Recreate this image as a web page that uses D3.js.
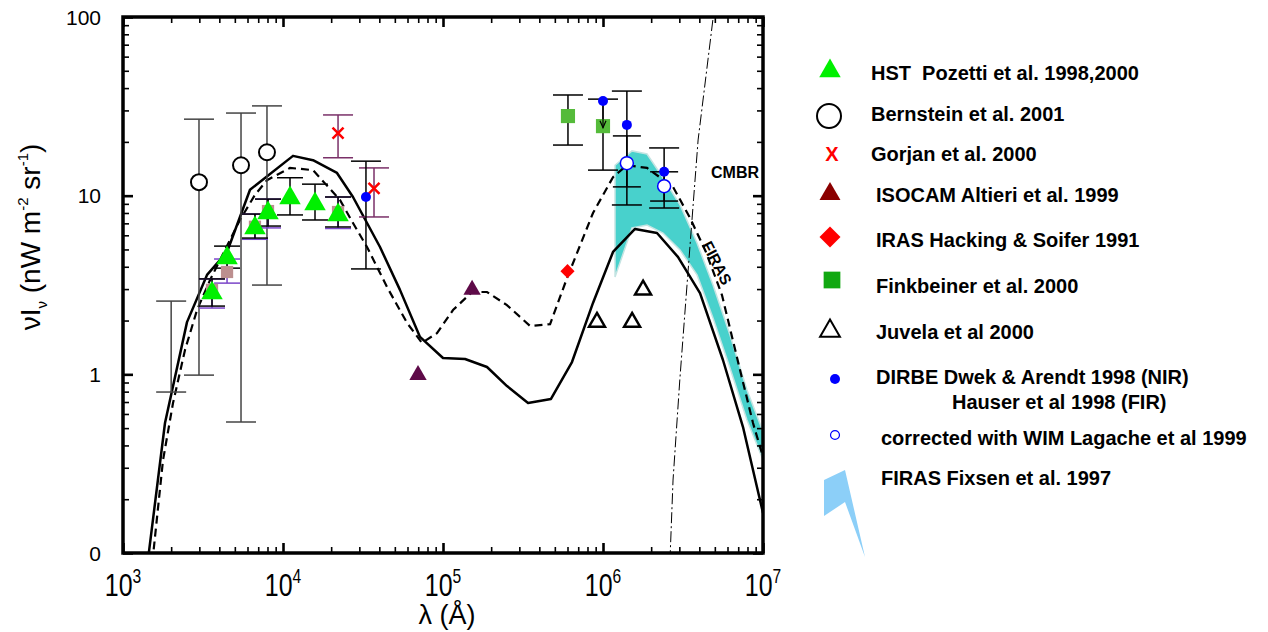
<!DOCTYPE html>
<html lang="en">
<head>
<meta charset="utf-8">
<title>Extragalactic background light</title>
<script src="https://cdn.jsdelivr.net/npm/d3@7"></script>
<style>
  body { margin: 0; background: #fff; }
  text { font-family: "Liberation Sans", Arial, sans-serif; }
</style>
</head>
<body>
<script>

// ---- data (lambda in Angstrom, nuI_nu in nW m^-2 sr^-1) ----
var xTicks = [1e3, 1e4, 1e5, 1e6, 1e7];
var xTickExp = ["3", "4", "5", "6", "7"];
var yTicks = [0.1, 1, 10, 100];
var yTickText = ["0", "1", "10", "100"];

var modelSolid = [
  [1393, 0.075], [1830, 0.534], [2512, 1.96], [3350, 3.6], [4470, 4.84], [6220, 10.8],
  [11550, 16.7], [15400, 15.8], [21750, 13.4], [27380, 9.83], [40380, 5.16], [53830, 2.97],
  [71800, 1.62], [1.0e5, 1.234], [1.373e5, 1.218], [1.884e5, 1.099], [2.512e5, 0.86],
  [3.4e5, 0.691], [4.73e5, 0.728], [6.4e5, 1.172], [8.66e5, 2.51], [1.155e6, 4.84],
  [1.585e6, 6.51], [2.175e6, 6.18], [2.94e6, 4.54], [4.04e6, 2.85], [5.62e6, 1.203],
  [7.5e6, 0.507], [1e7, 0.1675]
];

var modelDashed = [
  [1496, 0.075], [1778, 0.33], [2054, 0.691], [2441, 1.37], [2901, 2.29], [3500, 3.37],
  [4341, 4.97], [5380, 7.31], [6680, 10.1], [7940, 12.2], [11060, 14.3], [15400, 13.9],
  [22700, 9.46], [27380, 7.03], [33500, 5.16],
  [44700, 3.08], [59600, 1.94], [73900, 1.50], [91700, 1.70], [1.155e5, 2.29], [1.52e5, 2.89],
  [1.884e5, 2.89], [2.51e5, 2.44], [3.5e5, 1.865], [4.67e5, 1.91], [5.96e5, 3.46],
  [8.66e5, 8.0], [1.155e6, 12.7], [1.41e6, 14.8], [1.884e6, 14.3], [2.74e6, 11.2],
  [3.5e6, 7.5], [4.4e6, 4.84], [5.54e6, 2.78], [7.18e6, 1.06], [8.66e6, 0.534], [1e7, 0.345]
];

var cmbr = [
  [2.62e6, 0.09], [2.74e6, 0.256], [3.02e6, 0.93], [3.35e6, 3.16], [3.93e6, 20.5],
  [4.8e6, 87.9], [4.94e6, 109]
];

var firasBand = [
  {lam: 1.189e6, lo: 3.51, hi: 14.8}, {lam: 1.518e6, lo: 6.59, hi: 17.8},
  {lam: 1.884e6, lo: 6.85, hi: 17.1}, {lam: 2.37e6, lo: 6.18, hi: 12.6},
  {lam: 3.03e6, lo: 4.97, hi: 8.87}, {lam: 3.87e6, lo: 3.6, hi: 5.43},
  {lam: 4.87e6, lo: 2.07, hi: 3.16}, {lam: 6.22e6, lo: 1.085, hi: 1.66},
  {lam: 7.94e6, lo: 0.555, hi: 0.817}, {lam: 1.03e7, lo: 0.311, hi: 0.446}
];

var hst = [
  {lam: 3600, v: 2.85, lo: 2.41, hi: 3.42}, {lam: 4470, v: 4.48, lo: 3.93, hi: 5.22},
  {lam: 6680, v: 6.59, lo: 5.79, hi: 7.89}, {lam: 8060, v: 8.0, lo: 6.76, hi: 9.57},
  {lam: 11060, v: 9.7, lo: 7.8, hi: 12.6}, {lam: 15850, v: 8.98, lo: 7.31, hi: 11.6},
  {lam: 22080, v: 7.8, lo: 6.68, hi: 9.83}
];
var hstGround = [
  {lam: 3600, v: 2.97, lo: 2.35, hi: 3.42}, {lam: 4470, v: 3.74, lo: 3.24, hi: 4.42},
  {lam: 6680, v: 6.7, lo: 5.7, hi: 7.89}, {lam: 8060, v: 8.2, lo: 6.6, hi: 9.57},
  {lam: 22080, v: 8.1, lo: 6.55, hi: 9.83}
];
var bernstein = [
  {lam: 2985, v: 11.9, lo: 0.99, hi: 26.8}, {lam: 5465, v: 14.8, lo: 0.541, hi: 29.0},
  {lam: 7940, v: 17.5, lo: 3.16, hi: 31.8}
];
var uvBar = [{lam: 2000, lo: 0.796, hi: 2.57}];
var gorjan = [
  {lam: 22080, v: 22.4, lo: 16.3, hi: 28.3}, {lam: 37050, v: 11.0, lo: 7.6, hi: 14.3}
];
var dirbe = [
  {lam: 33000, v: 9.83, lo: 3.89, hi: 15.6}, {lam: 1.0e6, v: 33.9, lo: 13.9, hi: 34.7},
  {lam: 1.41e6, v: 24.9, lo: 8.87, hi: 38.5}, {lam: 2.41e6, v: 13.6, lo: 8.53, hi: 18.5}
];
var dirbeLimit = [{lam: 1.0e6, from: 33.9, to: 24.0}];
var corrected = [
  {lam: 1.41e6, v: 15.2, lo: 11.2, hi: 21.6}, {lam: 2.41e6, v: 11.3, lo: 9.33, hi: 13.6}
];
var finkbeiner = [
  {lam: 6.04e5, v: 27.9, lo: 19.2, hi: 36.6}, {lam: 1.0e6, v: 24.5}
];
var isocam = [{lam: 69800, v: 0.99}, {lam: 1.52e5, v: 2.97}];
var iras = [{lam: 6.0e5, v: 3.78}];
var juvela = [{lam: 9.17e5, v: 1.96}, {lam: 1.52e6, v: 1.96}, {lam: 1.78e6, v: 2.97}];

var legendLabels = [
  "HST  Pozetti et al. 1998,2000", "Bernstein et al. 2001", "Gorjan et al. 2000",
  "ISOCAM Altieri et al. 1999", "IRAS Hacking & Soifer 1991", "Finkbeiner et al. 2000",
  "Juvela et al 2000", "DIRBE Dwek & Arendt 1998 (NIR)", "corrected with WIM Lagache et al 1999",
  "FIRAS Fixsen et al. 1997"
];
var legendSecondLine = "Hauser et al 1998 (FIR)";

// ---- setup ----
var w = 1268, h = 632;
var plotL = 123, plotR = 763, plotT = 17, plotB = 553;

var svg = d3.select("body").append("svg")
  .attr("width", w)
  .attr("height", h);

var xScale = d3.scaleLog().domain([1e3, 1e7]).range([plotL, plotR]);
var yScale = d3.scaleLog().domain([0.1, 100]).range([plotB, plotT]);

svg.append("clipPath").attr("id", "clip")
  .append("rect")
  .attr("x", plotL).attr("y", plotT)
  .attr("width", plotR - plotL).attr("height", plotB - plotT);

var plot = svg.append("g").attr("clip-path", "url(#clip)");

//FIRAS band
var band = d3.area()
  .x(function(d) { return xScale(d.lam); })
  .y0(function(d) { return yScale(d.lo); })
  .y1(function(d) { return yScale(d.hi); });

plot.append("path")
  .datum(firasBand)
  .attr("d", band)
  .attr("fill", "#48d1cc")
  .attr("stroke", "#c4e4e2")
  .attr("stroke-width", 1.5);

//model curves
var line = d3.line()
  .x(function(d) { return xScale(d[0]); })
  .y(function(d) { return yScale(d[1]); });

plot.append("path").datum(modelSolid).attr("d", line)
  .attr("fill", "none").attr("stroke", "#000").attr("stroke-width", 2.5)
  .attr("stroke-linejoin", "round");

plot.append("path").datum(modelDashed).attr("d", line)
  .attr("fill", "none").attr("stroke", "#000").attr("stroke-width", 2.2)
  .attr("stroke-dasharray", "8,5");

plot.append("path").datum(cmbr).attr("d", line)
  .attr("fill", "none").attr("stroke", "#000").attr("stroke-width", 1)
  .attr("stroke-dasharray", "11,3,2,3");

//error bars
function errBars(data, color, cap, sw) {
  var g = plot.append("g").attr("stroke", color).attr("stroke-width", sw);
  data.forEach(function(d) {
    if (d.lo === undefined) return;
    var cx = xScale(d.lam);
    g.append("line")
      .attr("x1", cx).attr("x2", cx)
      .attr("y1", yScale(d.lo)).attr("y2", yScale(d.hi));
    [d.lo, d.hi].forEach(function(v) {
      g.append("line")
        .attr("x1", cx - cap / 2).attr("x2", cx + cap / 2)
        .attr("y1", yScale(v)).attr("y2", yScale(v));
    });
  });
}

errBars(uvBar, "#444", 30, 1.5);
errBars(bernstein, "#444", 30, 1.5);
errBars(hstGround, "#7a45c8", 26, 1.5);
errBars(hst, "#000", 26, 1.5);
errBars(gorjan, "#7a3068", 30, 1.5);
errBars(dirbe, "#000", 30, 1.5);
errBars(finkbeiner, "#000", 30, 1.5);
errBars(corrected, "#000", 28, 1.5);

//markers
function symbols(data, type, size, fill, stroke, sw, rot) {
  plot.selectAll(null)
    .data(data)
    .enter()
    .append("path")
    .attr("d", d3.symbol().type(type).size(size))
    .attr("transform", function(d) {
      return "translate(" + xScale(d.lam) + "," + yScale(d.v) + ")" + (rot ? " rotate(" + rot + ")" : "");
    })
    .attr("fill", fill)
    .attr("stroke", stroke || "none")
    .attr("stroke-width", sw || 0);
}

symbols(hstGround, d3.symbolSquare, 150, "#bc8f8f");
symbols(hst, d3.symbolTriangle, 200, "#00f000");
symbols(finkbeiner, d3.symbolSquare, 200, "#55bb3a");
symbols(isocam, d3.symbolTriangle, 130, "#5e0a48");
symbols(iras, d3.symbolSquare, 100, "#ff0000", null, 0, 45);
symbols(juvela, d3.symbolTriangle, 110, "#fff", "#000", 2.5);
symbols(bernstein, d3.symbolCircle, Math.PI * 64, "#fff", "#000", 2);

//Gorjan crosses
plot.selectAll(null)
  .data(gorjan)
  .enter()
  .append("path")
  .attr("d", "M-5.5,-5.5L5.5,5.5M-5.5,5.5L5.5,-5.5")
  .attr("transform", function(d) { return "translate(" + xScale(d.lam) + "," + yScale(d.v) + ")"; })
  .attr("stroke", "#ff0000")
  .attr("stroke-width", 2.5);

//DIRBE upper limit arrow
dirbeLimit.forEach(function(d) {
  var cx = xScale(d.lam);
  plot.append("line")
    .attr("x1", cx).attr("x2", cx)
    .attr("y1", yScale(d.from)).attr("y2", yScale(d.to))
    .attr("stroke", "#000").attr("stroke-width", 1.2);
  plot.append("path")
    .attr("d", "M" + (cx - 3) + "," + (yScale(d.to) - 7) + "L" + cx + "," + yScale(d.to) + "L" + (cx + 3) + "," + (yScale(d.to) - 7))
    .attr("fill", "none").attr("stroke", "#000").attr("stroke-width", 1.2);
});

symbols(dirbe, d3.symbolCircle, Math.PI * 25, "#0000ff");
symbols(corrected, d3.symbolCircle, Math.PI * 42, "#fff", "#0000ff", 1.5);

//labels in plot
svg.append("text")
  .attr("x", 711).attr("y", 178)
  .attr("font-size", "16px").attr("font-weight", "bold")
  .text("CMBR");

svg.append("text")
  .attr("transform", "translate(717,263) rotate(63)")
  .attr("text-anchor", "middle").attr("dy", "0.35em")
  .attr("font-size", "15.5px").attr("font-weight", "bold")
  .text("FIRAS");

//axes: minor and major ticks pointing inward on all four sides
function minorTicks(lo, hi) {
  var out = [];
  for (var e = lo; e < hi; e++) {
    for (var k = 2; k <= 9; k++) out.push(k * Math.pow(10, e));
  }
  return out;
}
var xMinor = minorTicks(3, 7);
var yMinor = minorTicks(-1, 2);

function drawAxis(axis, tx, ty) {
  var g = svg.append("g").attr("transform", "translate(" + tx + "," + ty + ")").call(axis);
  g.select(".domain").remove();
  g.selectAll("text").remove();
  return g;
}

[[xMinor, 6, 1.6], [xTicks, 10, 2.6]].forEach(function(t) {
  drawAxis(d3.axisBottom(xScale).tickValues(t[0]).tickSize(-t[1]), 0, plotB)
    .selectAll("line").attr("stroke-width", t[2]);
  drawAxis(d3.axisTop(xScale).tickValues(t[0]).tickSize(-t[1]), 0, plotT)
    .selectAll("line").attr("stroke-width", t[2]);
});
[[yMinor, 6, 1.6], [yTicks, 10, 2.6]].forEach(function(t) {
  drawAxis(d3.axisLeft(yScale).tickValues(t[0]).tickSize(-t[1]), plotL, 0)
    .selectAll("line").attr("stroke-width", t[2]);
  drawAxis(d3.axisRight(yScale).tickValues(t[0]).tickSize(-t[1]), plotR, 0)
    .selectAll("line").attr("stroke-width", t[2]);
});

svg.append("rect")
  .attr("x", plotL).attr("y", plotT)
  .attr("width", plotR - plotL).attr("height", plotB - plotT)
  .attr("fill", "none").attr("stroke", "#000").attr("stroke-width", 3.5);

//tick labels
svg.selectAll(null)
  .data(yTicks)
  .enter()
  .append("text")
  .attr("x", 101)
  .attr("y", function(d) { return yScale(d); })
  .attr("dy", "0.36em")
  .attr("text-anchor", "end")
  .attr("font-size", "21px")
  .text(function(d, i) { return yTickText[i]; });

var xl = svg.selectAll(null)
  .data(xTicks)
  .enter()
  .append("text")
  .attr("transform", function(d) { return "translate(" + xScale(d) + ",596) scale(0.78,1)"; })
  .attr("text-anchor", "middle")
  .attr("font-size", "32px");
xl.append("tspan").text("10");
xl.append("tspan")
  .attr("dy", -13)
  .attr("font-size", "20px")
  .text(function(d, i) { return xTickExp[i]; });

//axis titles
svg.append("text")
  .attr("x", 447).attr("y", 624)
  .attr("text-anchor", "middle")
  .attr("font-size", "27px")
  .text("λ (Å)");

var yl = svg.append("text")
  .attr("transform", "translate(40,237) rotate(-90)")
  .attr("text-anchor", "middle")
  .attr("font-size", "28px");
yl.append("tspan").text("νI");
yl.append("tspan").attr("dy", 7).attr("font-size", "15px").text("ν");
yl.append("tspan").attr("dy", -7).text(" (nW m");
yl.append("tspan").attr("dy", -12).attr("font-size", "15px").text("-2");
yl.append("tspan").attr("dy", 12).text(" sr");
yl.append("tspan").attr("dy", -12).attr("font-size", "15px").text("-1");
yl.append("tspan").attr("dy", 12).text(")");

//legend
var legendRows = [
  {x: 871, y: 73}, {x: 871, y: 114}, {x: 871, y: 154}, {x: 876, y: 195}, {x: 876, y: 240},
  {x: 876, y: 286}, {x: 876, y: 332}, {x: 876, y: 377}, {x: 881, y: 438}, {x: 881, y: 478}
];
var leg = svg.append("g");
leg.selectAll(null)
  .data(legendLabels)
  .enter()
  .append("text")
  .attr("x", function(d, i) { return legendRows[i].x; })
  .attr("y", function(d, i) { return legendRows[i].y; })
  .attr("dy", "0.35em")
  .attr("font-size", "20px")
  .attr("font-weight", "bold")
  .style("white-space", "pre")
  .text(function(d) { return d; });
leg.append("text")
  .attr("x", 952).attr("y", 402).attr("dy", "0.35em")
  .attr("font-size", "20px").attr("font-weight", "bold")
  .text(legendSecondLine);

function legSym(type, size, x, y, fill, stroke, sw, rot) {
  leg.append("path")
    .attr("d", d3.symbol().type(type).size(size))
    .attr("transform", "translate(" + x + "," + y + ")" + (rot ? " rotate(" + rot + ")" : ""))
    .attr("fill", fill)
    .attr("stroke", stroke || "none")
    .attr("stroke-width", sw || 0);
}
legSym(d3.symbolTriangle, 200, 830, 71, "#00f000");
legSym(d3.symbolCircle, Math.PI * 144, 829, 116, "#fff", "#000", 2);
leg.append("text")
  .attr("x", 832).attr("y", 154).attr("dy", "0.35em")
  .attr("text-anchor", "middle")
  .attr("font-size", "20px").attr("font-weight", "bold")
  .attr("fill", "#ff0000")
  .text("X");
legSym(d3.symbolTriangle, 190, 830, 194, "#8b0000");
legSym(d3.symbolSquare, 220, 830, 237, "#ff0000", null, 0, 45);
legSym(d3.symbolSquare, 280, 832, 280, "#11a811");
legSym(d3.symbolTriangle, 170, 830, 331, "#fff", "#000", 2);
legSym(d3.symbolCircle, Math.PI * 25, 835, 379, "#0000ff");
legSym(d3.symbolCircle, Math.PI * 20, 835, 435, "#fff", "#0000ff", 1.2);
leg.append("path")
  .attr("d", "M824,480L845,470L865,557L845,502L824,516Z")
  .attr("fill", "#8ccff8");

</script>
</body>
</html>
